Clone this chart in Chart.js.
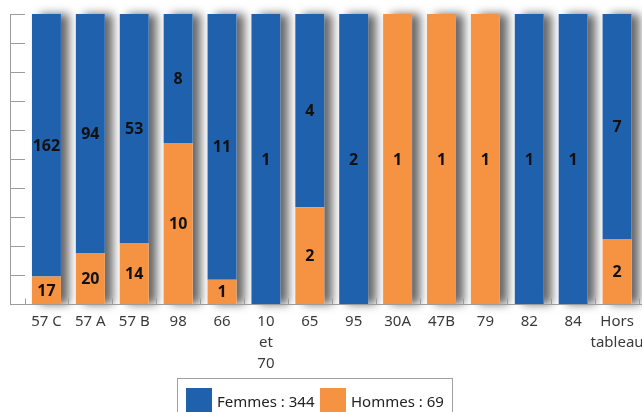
<!DOCTYPE html>
<html>
<head>
<meta charset="utf-8">
<script src="https://cdn.jsdelivr.net/npm/chart.js@4"></script>
<style>
  html, body { margin: 0; padding: 0; background: #fff; }
  #wrap { position: relative; width: 642px; height: 412px; overflow: hidden; }
  #chart { position: absolute; left: 0; top: 0; }
  #legend {
    position: absolute; left: 177px; top: 378px; width: 274px; height: 44px;
    border: 1px solid #a0a0a0; font-family: "Noto Sans", sans-serif; font-size: 15px; color: #222;
  }
  .item { position: absolute; top: 9px; height: 26px; line-height: 26px; }
  .item span.sw { display: inline-block; width: 26px; height: 26px; vertical-align: top; margin-right: 5px; }
</style>
</head>
<body>
<div id="wrap">
  <canvas id="chart" width="680" height="430"></canvas>
  <div id="legend"></div>
</div>
<script>
var categories = ["57 C", "57 A", "57 B", "98", "66", ["10", "et", "70"], "65", "95", "30A", "47B", "79", "82", "84", ["Hors", "tableau"]];
var femmes = [162, 94, 53, 8, 11, 1, 4, 2, 0, 0, 0, 1, 1, 7];
var hommes = [17, 20, 14, 10, 1, 0, 2, 0, 1, 1, 1, 0, 0, 2];
var yTicks = [0, 10, 20, 30, 40, 50, 60, 70, 80, 90, 100];

var blue = "#2061ad";
var orange = "#f59342";
var axisGrey = "#9c9c9c";

function share(part, i) {
    var total = femmes[i] + hommes[i];
    return total ? part / total * 100 : 0;
}

var data = {
    labels: categories,
    datasets: [
        { label: "Hommes", counts: hommes, data: hommes.map(function(v, i) { return share(v, i); }), backgroundColor: orange },
        { label: "Femmes", counts: femmes, data: femmes.map(function(v, i) { return share(v, i); }), backgroundColor: blue }
    ]
};

// soft grey shadow behind each stacked column
var barShadow = {
    id: "barShadow",
    beforeDatasetsDraw: function(chart) {
        var ctx = chart.ctx;
        var low = chart.getDatasetMeta(0).data;
        var high = chart.getDatasetMeta(1).data;
        ctx.save();
        ctx.shadowColor = "rgba(0,0,0,0.6)";
        ctx.shadowBlur = 10;
        ctx.shadowOffsetX = 8;
        ctx.fillStyle = "#ffffff";
        low.forEach(function(bar, i) {
            var top = Math.min(bar.y, high[i].y);
            ctx.fillRect(bar.x - bar.width / 2, top, bar.width, bar.base - top);
        });
        ctx.restore();
    }
};

// axis lines with inward ticks
var axes = {
    id: "axes",
    afterDatasetsDraw: function(chart) {
        var ctx = chart.ctx;
        var y = chart.scales.y, x = chart.scales.x;
        var axisX = 10;
        ctx.save();
        ctx.strokeStyle = axisGrey;
        ctx.lineWidth = 1;
        ctx.beginPath();
        ctx.moveTo(axisX + 0.5, y.getPixelForValue(100));
        ctx.lineTo(axisX + 0.5, y.getPixelForValue(0));
        yTicks.forEach(function(t) {
            var py = Math.round(y.getPixelForValue(t)) + 0.5;
            ctx.moveTo(axisX, py);
            ctx.lineTo(axisX + 15, py);
        });
        var base = Math.round(y.getPixelForValue(0)) + 0.5;
        ctx.moveTo(axisX, base);
        ctx.lineTo(chart.width, base);
        var step = x.getPixelForValue(1) - x.getPixelForValue(0);
        for (var i = 0; i <= categories.length; i++) {
            var px = Math.round(x.getPixelForValue(i) - step / 2) + 0.5;
            ctx.moveTo(px, base);
            ctx.lineTo(px, base - 6);
        }
        ctx.stroke();
        ctx.restore();
    }
};

// counts written in the middle of each segment
var counts = {
    id: "counts",
    afterDatasetsDraw: function(chart) {
        var ctx = chart.ctx;
        ctx.save();
        ctx.font = "bold 16px 'Noto Sans', sans-serif";
        ctx.fillStyle = "#111";
        ctx.textAlign = "center";
        ctx.textBaseline = "middle";
        chart.data.datasets.forEach(function(ds, d) {
            chart.getDatasetMeta(d).data.forEach(function(bar, i) {
                var n = ds.counts[i];
                if (!n) return;
                ctx.fillText(n, bar.x, (bar.y + bar.base) / 2 + 1);
            });
        });
        ctx.restore();
    }
};

new Chart(document.getElementById("chart"), {
    type: "bar",
    data: data,
    options: {
        responsive: false,
        animation: false,
        layout: { padding: { left: 24.5, right: 41, top: 14, bottom: 0 } },
        plugins: { legend: { display: false }, tooltip: { enabled: false } },
        datasets: { bar: { barPercentage: 0.66, categoryPercentage: 1 } },
        scales: {
            x: {
                stacked: true,
                grid: { display: false },
                border: { display: false },
                ticks: {
                    color: "#3a3a3a",
                    padding: -1,
                    maxRotation: 0,
                    autoSkip: false,
                    font: { family: "'Noto Sans', sans-serif", size: 15, lineHeight: 1.4 }
                },
                afterFit: function(s) { s.height = 126; }
            },
            y: {
                stacked: true,
                display: false,
                min: 0,
                max: 100
            }
        }
    },
    plugins: [barShadow, axes, counts]
});

// legend box under the chart
function sum(a) { return a.reduce(function(s, v) { return s + v; }, 0); }
var legend = document.getElementById("legend");
[["Femmes", femmes, blue, 8], ["Hommes", hommes, orange, 142]].forEach(function(e) {
    var it = document.createElement("div");
    it.className = "item";
    it.style.left = e[3] + "px";
    it.innerHTML = '<span class="sw" style="background:' + e[2] + '"></span>' + e[0] + " : " + sum(e[1]);
    legend.appendChild(it);
});
</script>
</body>
</html>
